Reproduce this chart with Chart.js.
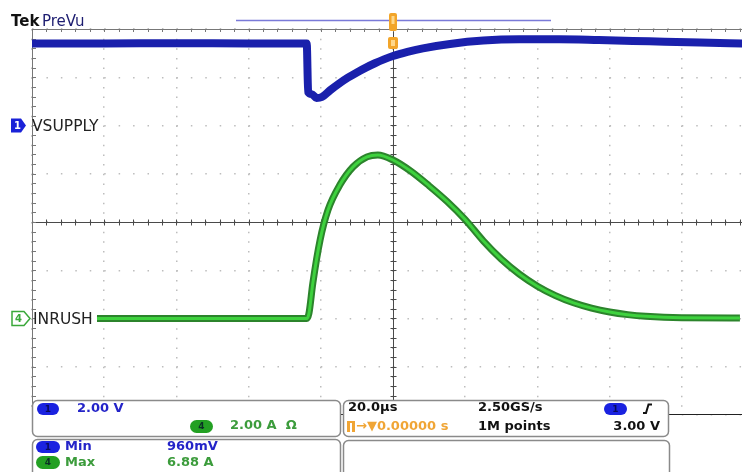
<!DOCTYPE html>
<html>
<head>
<meta charset="utf-8">
<script src="https://cdn.jsdelivr.net/npm/chart.js@4.4.0/dist/chart.umd.min.js"></script>
<style>
html,body{margin:0;padding:0;background:#fff;}
</style>
</head>
<body>
<canvas id="scope" width="742" height="472"></canvas>
<script>
// time in microseconds (20 us/div, trigger at 0)
const vsupplyTime  = [-100, -80, -60, -40, -23.9, -23.5, -22.5, -21.2, -19.7, -17.5, -15, -12.5, -10, -7.5, -5, -2.5, 0, 4, 8.3, 15.8, 25, 35, 46, 57, 71, 85, 96.7];
const vsupplyVolts = [3.40, 3.40, 3.41, 3.40, 3.40, 1.38, 1.30, 1.14, 1.18, 1.45, 1.73, 1.98, 2.20, 2.40, 2.58, 2.74, 2.88, 3.05, 3.20, 3.38, 3.52, 3.57, 3.57, 3.54, 3.49, 3.44, 3.40];

const inrushTime = [-82, -60, -40, -23.9, -23.3, -22.2, -20.2, -18.0, -14.7, -11.1, -7.2, -4.2, 0, 5, 10, 15, 20, 25, 30, 35, 40, 45, 50, 55, 60, 65, 70, 80, 96.1];
const inrushAmps = [0, 0, 0, 0, 0.2, 1.47, 3.25, 4.5, 5.54, 6.28, 6.7, 6.78, 6.57, 6.1, 5.5, 4.85, 4.1, 3.22, 2.46, 1.84, 1.34, 0.95, 0.65, 0.43, 0.27, 0.16, 0.09, 0.03, 0.02];

// scope settings
const voltsPerDiv = 2.0;   // ch1
const ampsPerDiv = 2.0;    // ch4
const ch1Offset = 2;       // ground marker, divisions above centre
const ch4Offset = -2;
const usPerDiv = 20;
const divWidth = 72.2;     // px per horizontal division on screen

const pts = (xs, ys) => xs.map((t, i) => ({x: t, y: ys[i]}));

function rrect(ctx, x, y, w, h, r) {
  ctx.beginPath();
  ctx.moveTo(x + r, y);
  ctx.arcTo(x + w, y, x + w, y + h, r);
  ctx.arcTo(x + w, y + h, x, y + h, r);
  ctx.arcTo(x, y + h, x, y, r);
  ctx.arcTo(x, y, x + w, y, r);
  ctx.closePath();
}

function pill(ctx, x, y, w, h, fill, label) {
  ctx.save();
  rrect(ctx, x, y, w, h, h / 2);
  ctx.fillStyle = fill;
  ctx.fill();
  ctx.fillStyle = 'rgba(0,0,40,0.7)';
  ctx.font = 'bold 9px "DejaVu Sans"';
  ctx.textAlign = 'center';
  ctx.textBaseline = 'middle';
  ctx.fillText(label, x + w / 2, y + h / 2 + 0.5);
  ctx.restore();
}

const decor = {
  id: 'decor',
  beforeDatasetsDraw(chart) {
    const ctx = chart.ctx, a = chart.chartArea;
    const sx = chart.scales.x, sy = chart.scales.yDiv;
    const x0 = Math.round(sx.getPixelForValue(0)) + 0.5;
    const y0 = Math.round(sy.getPixelForValue(0)) + 0.5;
    ctx.save();
    ctx.lineWidth = 1;
    // centre cross
    ctx.strokeStyle = '#4a4a4a';
    ctx.beginPath();
    ctx.moveTo(a.left, y0); ctx.lineTo(a.right, y0);
    ctx.moveTo(x0, a.top); ctx.lineTo(x0, a.bottom);
    for (let t = -100; t <= 100; t += usPerDiv / 5) {
      const px = Math.round(sx.getPixelForValue(t)) + 0.5;
      ctx.moveTo(px, y0 - 3); ctx.lineTo(px, y0 + 3);
    }
    for (let d = -4; d <= 4; d += 0.2) {
      const py = Math.round(sy.getPixelForValue(d)) + 0.5;
      ctx.moveTo(x0 - 3, py); ctx.lineTo(x0 + 3, py);
    }
    ctx.stroke();
    // outer frame
    ctx.strokeStyle = '#777';
    ctx.beginPath();
    ctx.moveTo(a.left + 0.5, a.top); ctx.lineTo(a.left + 0.5, a.bottom);
    for (let d = -4; d <= 4; d += 0.2) {
      const py = Math.round(sy.getPixelForValue(d)) + 0.5;
      ctx.moveTo(a.left, py); ctx.lineTo(a.left + 4, py);
    }
    ctx.moveTo(a.left, a.top + 0.5); ctx.lineTo(a.right, a.top + 0.5);
    for (let t = -100; t <= 100; t += usPerDiv / 5) {
      const px = Math.round(sx.getPixelForValue(t)) + 0.5;
      ctx.moveTo(px, a.top); ctx.lineTo(px, a.top + 3);
    }
    ctx.stroke();
    ctx.strokeStyle = '#222';
    ctx.beginPath();
    ctx.moveTo(a.left, a.bottom - 0.5); ctx.lineTo(a.right, a.bottom - 0.5);
    ctx.stroke();
    ctx.restore();
  },
  afterDatasetsDraw(chart) {
    const ctx = chart.ctx;
    const sx = chart.scales.x;
    const x0 = sx.getPixelForValue(0);
    const yG1 = chart.scales.yV.getPixelForValue(0);
    const yG4 = chart.scales.yA.getPixelForValue(0);
    ctx.save();

    // header
    ctx.textBaseline = 'alphabetic';
    ctx.fillStyle = '#111';
    ctx.font = 'bold 15px "DejaVu Sans"';
    ctx.fillText('Tek', 11, 26);
    ctx.fillStyle = '#1c1c70';
    ctx.font = '15px "DejaVu Sans"';
    ctx.fillText('PreVu', 42, 26);

    // record view bar + trigger markers
    ctx.strokeStyle = '#7a7ad8';
    ctx.lineWidth = 1.5;
    ctx.beginPath();
    ctx.moveTo(236, 20.5); ctx.lineTo(551, 20.5);
    ctx.stroke();
    ctx.fillStyle = '#f2a52a';
    rrect(ctx, x0 - 4, 13, 8, 18, 2); ctx.fill();
    rrect(ctx, x0 - 5, 37, 10, 12, 2); ctx.fill();
    ctx.fillStyle = '#ffd88a';
    ctx.fillRect(x0 - 1.5, 16, 3, 8);
    ctx.fillRect(x0 - 2, 40, 4, 6);

    // channel ground markers
    ctx.fillStyle = '#1a22d8';
    ctx.beginPath();
    ctx.moveTo(11, yG1 - 7); ctx.lineTo(21, yG1 - 7); ctx.lineTo(26, yG1);
    ctx.lineTo(21, yG1 + 7); ctx.lineTo(11, yG1 + 7); ctx.closePath();
    ctx.fill();
    ctx.fillStyle = '#fff';
    ctx.font = 'bold 10px "DejaVu Sans"';
    ctx.textBaseline = 'middle';
    ctx.fillText('1', 14, yG1 + 0.5);
    ctx.fillStyle = '#222';
    ctx.font = '15.5px "DejaVu Sans"';
    ctx.fillText('VSUPPLY', 32, yG1 + 1);

    ctx.fillStyle = '#fff';
    ctx.strokeStyle = '#3aa83a';
    ctx.lineWidth = 1.5;
    ctx.beginPath();
    ctx.moveTo(12, yG4 - 7); ctx.lineTo(24, yG4 - 7); ctx.lineTo(30, yG4);
    ctx.lineTo(24, yG4 + 7); ctx.lineTo(12, yG4 + 7); ctx.closePath();
    ctx.fill(); ctx.stroke();
    ctx.fillStyle = '#3aa83a';
    ctx.font = 'bold 10px "DejaVu Sans"';
    ctx.fillText('4', 15, yG4 + 0.5);
    ctx.fillStyle = '#222';
    ctx.font = '15.5px "DejaVu Sans"';
    ctx.fillText('INRUSH', 33, yG4 + 1);

    // readout boxes
    ctx.strokeStyle = '#8a8a8a';
    ctx.lineWidth = 1.5;
    ctx.fillStyle = '#fff';
    [[32.5, 400.5, 308, 36], [343.5, 400.5, 325, 36], [32.5, 439.5, 308, 40], [343.5, 440.5, 326, 40]].forEach(b => {
      rrect(ctx, b[0], b[1], b[2], b[3], 5);
      ctx.fill(); ctx.stroke();
    });

    const blueTxt = '#2424c8', greenTxt = '#3c9c3c', orangeTxt = '#f0a535';
    ctx.font = 'bold 13px "DejaVu Sans"';
    ctx.textBaseline = 'middle';

    pill(ctx, 37, 403, 22, 12, '#1a22e0', '1');
    ctx.fillStyle = blueTxt;
    ctx.fillText('2.00 V', 77, 409);
    pill(ctx, 190, 420, 23, 13, '#23a023', '4');
    ctx.fillStyle = greenTxt;
    ctx.fillText('2.00 A  \u03A9', 230, 426);

    ctx.fillStyle = '#111';
    ctx.fillText('20.0\u00B5s', 348, 408);
    ctx.fillText('2.50GS/s', 478, 408);
    ctx.fillText('1M points', 478, 427);
    ctx.textAlign = 'right';
    ctx.fillText('3.00 V', 660, 427);
    ctx.textAlign = 'left';
    pill(ctx, 604, 403, 23, 12, '#1a22e0', '1');
    ctx.strokeStyle = '#111';
    ctx.lineWidth = 2;
    ctx.beginPath();
    ctx.moveTo(643, 413); ctx.lineTo(646, 413);
    ctx.lineTo(648.5, 404.5); ctx.lineTo(652, 404.5);
    ctx.stroke();

    ctx.fillStyle = orangeTxt;
    ctx.fillRect(347, 421, 8, 11);
    ctx.fillStyle = '#fff';
    ctx.fillRect(350, 423, 2, 9);
    ctx.fillStyle = orangeTxt;
    ctx.fillText('\u2192\u25BC0.00000 s', 356, 427);

    pill(ctx, 36, 441, 24, 12, '#1a22e0', '1');
    pill(ctx, 36, 456, 24, 13, '#23a023', '4');
    ctx.fillStyle = blueTxt;
    ctx.fillText('Min', 65, 447);
    ctx.fillText('960mV', 167, 447);
    ctx.fillStyle = greenTxt;
    ctx.fillText('Max', 65, 463);
    ctx.fillText('6.88 A', 167, 463);

    ctx.restore();
  }
};

new Chart(document.getElementById('scope'), {
  type: 'line',
  data: {
    datasets: [
      {
        label: 'VSUPPLY',
        data: pts(vsupplyTime, vsupplyVolts),
        yAxisID: 'yV',
        order: 0,
        borderColor: '#1a20ac',
        borderWidth: 8,
        pointRadius: 0,
        cubicInterpolationMode: 'monotone'
      },
      {
        label: 'INRUSH outline',
        data: pts(inrushTime, inrushAmps),
        yAxisID: 'yA',
        order: 2,
        borderColor: '#2c842c',
        borderWidth: 7,
        pointRadius: 0,
        cubicInterpolationMode: 'monotone'
      },
      {
        label: 'INRUSH',
        data: pts(inrushTime, inrushAmps),
        yAxisID: 'yA',
        order: 1,
        borderColor: '#3ed23e',
        borderWidth: 3,
        pointRadius: 0,
        cubicInterpolationMode: 'monotone'
      }
    ]
  },
  options: {
    responsive: false,
    animation: false,
    events: [],
    layout: {padding: {left: 32, top: 29, right: 0, bottom: 57}},
    plugins: {legend: {display: false}, tooltip: {enabled: false}},
    scales: {
      x: {
        type: 'linear',
        min: -5 * usPerDiv,
        max: (742 - 32) / divWidth * usPerDiv - 5 * usPerDiv,
        ticks: {display: false, stepSize: usPerDiv, includeBounds: false},
        grid: {color: '#bdbdbd', lineWidth: 1.5, drawTicks: false},
        border: {display: false, dash: [1.5, 8.15]},
        afterFit: s => { s.height = 0; }
      },
      yDiv: {
        position: 'left',
        min: -4, max: 4,
        ticks: {display: false, stepSize: 1},
        grid: {color: '#bdbdbd', lineWidth: 1.5, drawTicks: false},
        border: {display: false, dash: [1.5, 12.94]},
        afterFit: s => { s.width = 0; }
      },
      yV: {
        display: false,
        min: (-4 - ch1Offset) * voltsPerDiv,
        max: (4 - ch1Offset) * voltsPerDiv
      },
      yA: {
        display: false,
        min: (-4 - ch4Offset) * ampsPerDiv,
        max: (4 - ch4Offset) * ampsPerDiv
      }
    }
  },
  plugins: [decor]
});
</script>
</body>
</html>
